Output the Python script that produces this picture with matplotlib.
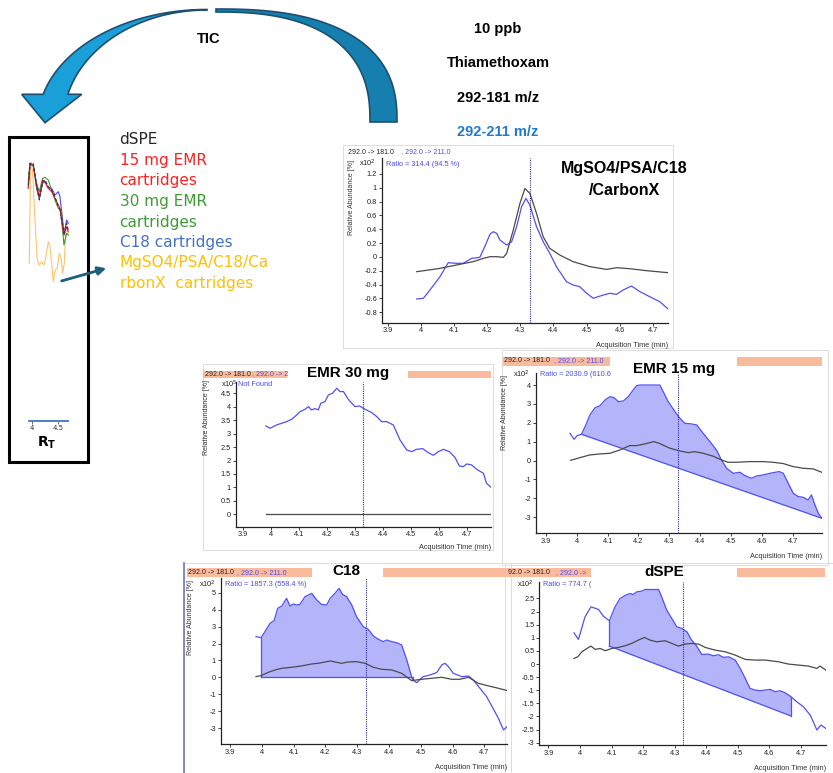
import numpy as np
import matplotlib.pyplot as plt
from matplotlib.patches import Polygon, Rectangle

plt.rcParams['axes.unicode_minus'] = False

W, H = 833, 773

# ---- chromatogram data (time in min, abundance x10^n) ----
rt_line = 4.328
x_ticks = [3.9, 4.0, 4.1, 4.2, 4.3, 4.4, 4.5, 4.6, 4.7]

# MgSO4/PSA/C18/CarbonX
mg_black_x = [3.988, 4.058, 4.108, 4.158, 4.189, 4.209, 4.229, 4.249, 4.259, 4.279, 4.299, 4.314, 4.329,
              4.349, 4.369, 4.389, 4.419, 4.459, 4.51, 4.56, 4.59, 4.63, 4.68, 4.745]
mg_black_y = [-0.213, -0.165, -0.116, -0.068, -0.02, 0.004, 0.004, -0.006, 0.052, 0.389, 0.774, 0.99, 0.918,
              0.629, 0.292, 0.124, 0.028, -0.068, -0.14, -0.18, -0.155, -0.17, -0.198, -0.227]
mg_blue_x = [3.988, 4.008, 4.028, 4.058, 4.083, 4.108, 4.128, 4.153, 4.178, 4.193, 4.209, 4.219, 4.229,
             4.239, 4.259, 4.274, 4.289, 4.304, 4.317, 4.329, 4.349, 4.369, 4.389, 4.409, 4.439, 4.459,
             4.479, 4.5, 4.52, 4.55, 4.57, 4.59, 4.61, 4.635, 4.66, 4.69, 4.72, 4.745]
mg_blue_y = [-0.607, -0.598, -0.477, -0.285, -0.083, -0.092, -0.092, -0.02, -0.006, 0.148, 0.331, 0.365,
             0.341, 0.244, 0.172, 0.22, 0.437, 0.726, 0.846, 0.75, 0.437, 0.22, 0.052, -0.141, -0.357,
             -0.405, -0.429, -0.525, -0.597, -0.55, -0.525, -0.54, -0.477, -0.42, -0.5, -0.574, -0.646, -0.75]

# EMR 30 mg
emr30_black_x = [3.983, 4.787]
emr30_black_y = [0.0, 0.0]
emr30_blue_x = [3.983, 3.998, 4.021, 4.057, 4.075, 4.093, 4.105, 4.123, 4.135, 4.146, 4.158, 4.17, 4.179,
                4.194, 4.206, 4.221, 4.236, 4.248, 4.26, 4.277, 4.301, 4.317, 4.337, 4.361, 4.379, 4.396,
                4.414, 4.438, 4.462, 4.486, 4.504, 4.521, 4.543, 4.563, 4.581, 4.599, 4.617, 4.638, 4.658,
                4.674, 4.688, 4.7, 4.718, 4.736, 4.76, 4.771, 4.787]
emr30_blue_y = [3.285, 3.198, 3.322, 3.446, 3.533, 3.694, 3.818, 3.905, 4.004, 3.88, 3.93, 3.88, 4.128,
                4.19, 4.438, 4.5, 4.686, 4.562, 4.562, 4.277, 4.004, 4.029, 3.905, 3.781, 3.632, 3.446,
                3.446, 3.322, 2.764, 2.392, 2.33, 2.417, 2.442, 2.293, 2.194, 2.33, 2.417, 2.33, 2.12,
                1.797, 1.773, 1.872, 1.835, 1.673, 1.525, 1.153, 1.004]

# EMR 15 mg
emr15_black_x = [3.981, 4.011, 4.043, 4.076, 4.108, 4.14, 4.172, 4.194, 4.215, 4.25, 4.269, 4.302, 4.334,
                 4.361, 4.382, 4.409, 4.442, 4.468, 4.49, 4.517, 4.56, 4.603, 4.635, 4.668, 4.7, 4.732,
                 4.765, 4.792]
emr15_black_y = [0.016, 0.157, 0.298, 0.351, 0.386, 0.562, 0.792, 0.792, 0.862, 1.003, 0.898, 0.651, 0.51,
                 0.421, 0.474, 0.386, 0.228, 0.034, -0.09, -0.09, -0.055, -0.055, -0.09, -0.16, -0.319,
                 -0.407, -0.443, -0.619]
emr15_blue_x = [3.979, 3.992, 4.002, 4.016, 4.03, 4.043, 4.06, 4.076, 4.092, 4.108, 4.121, 4.135, 4.151,
                4.167, 4.183, 4.194, 4.205, 4.269, 4.28, 4.296, 4.318, 4.334, 4.35, 4.372, 4.388, 4.409,
                4.431, 4.452, 4.468, 4.485, 4.506, 4.528, 4.544, 4.565, 4.582, 4.603, 4.63, 4.655, 4.668,
                4.684, 4.7, 4.716, 4.732, 4.748, 4.759, 4.77, 4.781, 4.792]
emr15_blue_y = [1.444, 1.127, 1.321, 1.391, 1.885, 2.414, 2.802, 2.908, 3.208, 3.384, 3.332, 3.12, 3.155,
                3.384, 3.737, 3.966, 4.0, 4.0, 3.648, 3.12, 2.591, 2.238, 1.973, 1.938, 1.885, 1.444,
                1.003, 0.562, 0.034, -0.407, -0.672, -0.619, -0.795, -0.936, -0.813, -0.76, -0.654, -0.584,
                -0.672, -1.201, -1.73, -1.906, -1.941, -2.083, -1.818, -2.347, -2.788, -3.052]
emr15_base_x = [4.016, 4.792]
emr15_base_y = [1.391, -3.052]

# C18
c18_black_x = [3.982, 3.998, 4.021, 4.042, 4.063, 4.094, 4.125, 4.157, 4.178, 4.215, 4.23, 4.251, 4.272,
               4.298, 4.325, 4.351, 4.377, 4.409, 4.44, 4.471, 4.503, 4.534, 4.566, 4.597, 4.623, 4.65,
               4.681, 4.713, 4.744, 4.772]
c18_black_y = [0.047, 0.106, 0.303, 0.44, 0.539, 0.598, 0.676, 0.794, 0.833, 0.971, 0.912, 0.833, 0.912,
               0.932, 0.833, 0.598, 0.48, 0.44, 0.244, -0.189, -0.11, -0.051, 0.008, -0.11, -0.11, 0.008,
               -0.346, -0.503, -0.641, -0.778]
c18_blue_x = [3.982, 3.998, 4.01, 4.026, 4.039, 4.05, 4.063, 4.078, 4.089, 4.099, 4.11, 4.12, 4.136, 4.157,
              4.173, 4.188, 4.204, 4.215, 4.23, 4.243, 4.254, 4.267, 4.283, 4.298, 4.319, 4.335, 4.351,
              4.367, 4.382, 4.393, 4.409, 4.424, 4.44, 4.456, 4.474, 4.487, 4.508, 4.529, 4.55, 4.566,
              4.576, 4.587, 4.602, 4.629, 4.65, 4.665, 4.686, 4.707, 4.723, 4.744, 4.76, 4.772]
c18_blue_y = [2.406, 2.347, 2.701, 3.192, 3.35, 4.077, 4.215, 4.667, 4.215, 4.333, 4.274, 4.313, 4.765,
              4.961, 4.568, 4.313, 4.274, 4.667, 4.961, 5.256, 4.903, 4.765, 4.274, 3.586, 2.996, 2.838,
              2.445, 2.249, 2.111, 2.209, 2.111, 2.052, 1.915, 1.03, -0.149, -0.307, 0.047, 0.145, 0.283,
              0.735, 0.833, 0.637, 0.244, 0.047, 0.086, -0.149, -0.641, -1.132, -1.683, -2.41, -3.098, -2.901]
c18_base_x = [3.998, 4.474]
c18_base_y = [0.0, 0.0]

# dSPE
dspe_black_x = [3.981, 3.993, 4.006, 4.022, 4.035, 4.048, 4.064, 4.08, 4.101, 4.122, 4.143, 4.164, 4.185,
                4.204, 4.222, 4.243, 4.27, 4.291, 4.312, 4.333, 4.354, 4.376, 4.397, 4.428, 4.46, 4.492,
                4.524, 4.555, 4.587, 4.629, 4.661, 4.693, 4.724, 4.751, 4.761, 4.779]
dspe_black_y = [0.213, 0.277, 0.467, 0.594, 0.683, 0.556, 0.594, 0.506, 0.594, 0.633, 0.696, 0.785, 0.912,
                1.013, 0.912, 0.848, 0.887, 0.785, 0.683, 0.76, 0.785, 0.76, 0.633, 0.531, 0.467, 0.34,
                0.175, 0.15, 0.15, 0.086, -0.003, -0.041, -0.079, -0.168, -0.079, -0.231]
dspe_blue_x = [3.981, 3.995, 4.016, 4.035, 4.059, 4.074, 4.093, 4.111, 4.127, 4.145, 4.159, 4.169, 4.18,
               4.196, 4.206, 4.249, 4.259, 4.275, 4.291, 4.307, 4.323, 4.339, 4.354, 4.37, 4.386, 4.407,
               4.423, 4.439, 4.455, 4.471, 4.492, 4.508, 4.524, 4.539, 4.555, 4.571, 4.587, 4.603, 4.619,
               4.634, 4.65, 4.669, 4.687, 4.708, 4.73, 4.751, 4.764, 4.779]
dspe_blue_y = [1.191, 0.937, 1.801, 2.182, 2.08, 1.826, 1.649, 2.182, 2.5, 2.627, 2.69, 2.652, 2.754,
               2.779, 2.843, 2.843, 2.563, 2.055, 1.738, 1.42, 1.357, 1.229, 0.912, 0.683, 0.366, 0.379,
               0.315, 0.353, 0.251, 0.277, 0.15, -0.168, -0.549, -0.93, -0.993, -1.019, -0.993, -0.968,
               -1.057, -1.019, -1.095, -1.247, -1.438, -1.628, -1.946, -2.518, -2.327, -2.454]
dspe_base_x = [4.093, 4.669]
dspe_base_y = [0.683, -1.984]

# small TIC overlay (relative units)
tic_x = [3.923, 3.955, 4.019, 4.083, 4.135, 4.199, 4.244, 4.308, 4.372, 4.436, 4.5, 4.532, 4.583, 4.609, 4.66, 4.692]
tic_dspe = [3.05, 3.7, 3.7, 3.0, 2.6, 3.15, 3.2, 3.0, 2.9, 2.7, 2.4, 2.3, 1.9, 1.6, 1.9, 1.7]
tic_emr15 = [2.95, 3.65, 3.65, 3.05, 2.7, 3.2, 3.15, 2.95, 2.85, 2.65, 2.45, 2.35, 1.8, 1.55, 1.8, 1.65]
tic_emr30 = [3.15, 3.7, 3.6, 3.1, 2.85, 3.25, 3.28, 3.2, 2.9, 2.6, 2.35, 2.35, 1.7, 1.25, 1.6, 1.55]
tic_c18 = [3.0, 3.7, 3.65, 2.95, 2.65, 3.1, 3.15, 2.95, 2.95, 2.75, 2.85, 2.7, 2.0, 1.55, 2.0, 1.9]
tic_mg_x = [3.942, 3.968, 4.006, 4.051, 4.096, 4.135, 4.179, 4.224, 4.263, 4.308, 4.34, 4.378, 4.404,
            4.442, 4.481, 4.519, 4.551, 4.583, 4.615, 4.641, 4.673, 4.692]
tic_mg = [0.7, 3.6, 3.5, 2.0, 0.8, 0.65, 0.75, 0.65, 0.9, 1.35, 1.2, 0.6, 0.15, 0.5, 0.55, 1.0, 0.9,
          0.4, 0.7, 1.65, 1.7, 1.55]

legend_lines = ['dSPE', '15 mg EMR', 'cartridges', '30 mg EMR', 'cartridges', 'C18 cartridges',
                'MgSO4/PSA/C18/Ca', 'rbonX  cartridges']
legend_colors = ['#262626', '#ff2020', '#ff2020', '#3f9b35', '#3f9b35', '#4472c4', '#ffc000', '#ffc000']

BLUE = '#5050f5'
GREY = '#4a4a4a'
ORANGE = '#f9bb9c'
TXT = 'Liberation Sans'


def px(x, y):
    return x / W, 1 - y / H


def ftext(x, y, s, **kw):
    fx, fy = px(x, y)
    fig.text(fx, fy, s, **kw)


def px_axes(l, t, r, b):
    return fig.add_axes([l / W, 1 - b / H, (r - l) / W, (b - t) / H])


def chrom(rect, xlim, ylim, yticks, bx, by, ux, uy, base_x=None, base_y=None):
    ax = px_axes(*rect)
    ax.set_facecolor('none')
    if base_x is not None:
        ux_a, uy_a = np.array(ux), np.array(uy)
        m = (ux_a >= base_x[0] - 1e-9) & (ux_a <= base_x[-1] + 1e-9)
        sx, sy = ux_a[m], uy_a[m]
        bl = np.interp(sx, base_x, base_y)
        ax.fill_between(sx, sy, bl, color='#b4b4fb', lw=0)
        ax.plot(base_x, base_y, color=BLUE, lw=0.9)
        ax.plot([base_x[0]] * 2, [base_y[0], sy[0]], color=BLUE, lw=0.9)
        ax.plot([base_x[-1]] * 2, [base_y[-1], sy[-1]], color=BLUE, lw=0.9)
    ax.plot(ux, uy, color=BLUE, lw=0.9)
    ax.plot(bx, by, color=GREY, lw=0.9)
    ax.axvline(rt_line, color='#2c2c9c', lw=0.8, ls=(0, (1, 1)))
    ax.set_xlim(*xlim)
    ax.set_ylim(*ylim)
    ax.set_xticks(x_ticks)
    ax.set_xticklabels(['%g' % v for v in x_ticks])
    ax.set_yticks(yticks)
    ax.set_yticklabels(['%g' % (round(v, 2) + 0.0) for v in yticks])
    for s in ['top', 'right']:
        ax.spines[s].set_visible(False)
    for s in ['left', 'bottom']:
        ax.spines[s].set_color('#222222')
        ax.spines[s].set_linewidth(0.9)
    ax.tick_params(length=2.2, width=0.6, pad=1.2, labelsize=5.3, colors='#222222')
    for lab in ax.get_xticklabels() + ax.get_yticklabels():
        lab.set_family(TXT)
    ax.text(1.0, -0.12, 'Acquisition Time (min)', transform=ax.transAxes, ha='right', va='top',
            fontsize=5.3, family=TXT, color='#333333')
    return ax


fig = plt.figure(figsize=(W / 100, H / 100), dpi=100)

# overlay for shapes in pixel space
ov = fig.add_axes([0, 0, 1, 1])
ov.set_xlim(0, W)
ov.set_ylim(H, 0)
ov.axis('off')


def arc(cx, cy, rx, ry, t0, t1, p=1.0, n=80):
    t = np.linspace(t0, t1, n)
    c, s = np.cos(t), np.sin(t)
    return np.column_stack([cx + rx * np.sign(c) * np.abs(c) ** p, cy - ry * np.abs(s) ** p])


# big curved arrow
dark = np.vstack([arc(216, 122, 181, 113, np.pi / 2, 0, 0.8), arc(216, 122, 154, 110, 0, np.pi / 2, 0.8)])
ov.add_patch(Polygon(dark, closed=True, fc='#1580b0', ec='#1d4f6e', lw=1.2))
t_o = np.pi - np.arcsin(27.7 / 112.5)
t_i = np.pi - np.arcsin(27.7 / 112.0)
light = np.vstack([arc(207, 122, 169, 112.5, np.pi / 2, t_o),
                   [[21.7, 94.3], [45, 122.7], [81.7, 94.3]],
                   arc(207, 122, 143.6, 112, t_i, np.pi / 2)])
ov.add_patch(Polygon(light, closed=True, fc='#1b9fd8', ec='#1d4f6e', lw=1.2))

# panel frames
for (l, t, r, b) in [(343, 145, 673, 348), (203, 364, 493, 550), (502, 350, 828, 565),
                     (184, 563, 511, 773), (505, 563, 833, 773)]:
    ov.add_patch(Rectangle((l, t), r - l, b - t, fill=False, ec='#dcdcdc', lw=0.7))
ov.plot([184, 184], [563, 773], color='#6a78c0', lw=1.2)

# orange header boxes
for (l, t, r, b) in [(203, 370.7, 287, 377.5), (408, 370.7, 491, 377.5),
                     (503, 356.7, 610, 365.7), (737, 356.7, 821.7, 365.7),
                     (186.7, 568.3, 311.7, 577.3), (383, 568.3, 508, 577.3),
                     (505, 568, 591, 576.7), (737, 568, 825, 576.7)]:
    ov.add_patch(Rectangle((l, t), r - l, b - t, fc=ORANGE, ec='none'))

# inset box and small arrow
ov.add_patch(Rectangle((9, 137), 79, 325, fill=False, ec='black', lw=2.2))
ov.annotate('', xy=(109, 267.5), xytext=(59, 281.7),
            arrowprops=dict(arrowstyle='-|>', color='#1d5f7a', lw=2, mutation_scale=12))

# inset TIC overlay
ins = px_axes(26, 160, 70, 285)
ins.plot(tic_mg_x, tic_mg, color='#ffc36a', lw=0.8)
ins.plot(tic_x, tic_emr30, color='#3f9b35', lw=0.8)
ins.plot(tic_x, tic_c18, color='#4a4aee', lw=0.8)
ins.plot(tic_x, tic_emr15, color='#e02020', lw=0.8)
ins.plot(tic_x, tic_dspe, color='#333333', lw=0.8, ls=(0, (3, 1.5)))
ins.set_xlim(3.879, 4.725)
ins.set_ylim(0.05, 3.8)
ins.axis('off')

ia = px_axes(26, 420, 70, 421)
ia.set_xlim(3.879, 4.725)
ia.set_xticks([4.0, 4.5])
ia.set_xticklabels(['4', '4.5'])
ia.set_yticks([])
for s in ['top', 'right', 'left']:
    ia.spines[s].set_visible(False)
ia.spines['bottom'].set_color('#4472c4')
ia.spines['bottom'].set_linewidth(1.3)
ia.spines['bottom'].set_bounds(3.937, 4.687)
ia.set_facecolor('none')
ia.tick_params(length=2, width=0.5, pad=1, labelsize=5, colors='#333333')
ftext(46.7, 443, r'$\mathbf{R_T}$', ha='center', va='center', fontsize=10)

# legend text
for i, (s, c) in enumerate(zip(legend_lines, legend_colors)):
    ftext(119.5, 140 + i * 20.5, s, color=c, fontsize=11, ha='left', va='center', family='DejaVu Sans')

# top labels
ftext(209, 39, 'TIC', fontsize=10.5, weight='bold', ha='center', va='center', family=TXT)
for s, y, c in [('10 ppb', 28.5, 'black'), ('Thiamethoxam', 63, 'black'),
                ('292-181 m/z', 98.5, 'black'), ('292-211 m/z', 132, '#1f7ad0')]:
    ftext(498, y, s, fontsize=10.5, weight='bold', ha='center', va='center', color=c, family=TXT)

# panels
chrom((381.7, 158, 668.3, 322.7), (3.8825, 4.746), (-0.95, 1.43), np.round(np.arange(-0.8, 1.21, 0.2), 1),
      mg_black_x, mg_black_y, mg_blue_x, mg_blue_y)
chrom((235.7, 381.7, 491, 526.7), (3.875, 4.787), (-0.46, 4.93), np.arange(0, 4.51, 0.5),
      emr30_black_x, emr30_black_y, emr30_blue_x, emr30_blue_y)
chrom((535.7, 373.3, 821.7, 533.3), (3.868, 4.792), (-3.85, 4.62), np.arange(-3, 4.1, 1),
      emr15_black_x, emr15_black_y, emr15_blue_x, emr15_blue_y, emr15_base_x, emr15_base_y)
chrom((220.7, 578.3, 507.3, 744), (3.871, 4.772), (-3.93, 5.85), np.arange(-3, 5.1, 1),
      c18_black_x, c18_black_y, c18_blue_x, c18_blue_y, c18_base_x, c18_base_y)
chrom((539.3, 581.7, 825.7, 745), (3.871, 4.779), (-3.09, 3.14), np.arange(-3, 2.51, 0.5),
      dspe_black_x, dspe_black_y, dspe_blue_x, dspe_blue_y, dspe_base_x, dspe_base_y)

# panel headers
HB = '#4b4bff'
headers = [
    (348, 401, 152, '292.0 -> 181.0', ', 292.0 -> 211.0'),
    (205, 252, 374, '292.0 -> 181.0', ', 292.0 -> 2'),
    (504, 554, 361, '292.0 -> 181.0', ', 292.0 -> 211.0'),
    (188.3, 237, 572.7, '292.0 -> 181.0', ', 292.0 -> 211.0'),
    (508, 555.5, 572.3, '92.0 -> 181.0', ', 292.0 ->'),
]
for x0, x1, y, s0, s1 in headers:
    ftext(x0, y, s0, fontsize=5.0, family=TXT, ha='left', va='center', color='#222222')
    ftext(x1, y, s1, fontsize=5.0, family=TXT, ha='left', va='center', color=HB)

for x, y, s in [(359, 163.5, r'x10$^{2}$'), (220.7, 384, r'x10$^{5}$'), (513.3, 374.5, r'x10$^{2}$'),
                (199, 584, r'x10$^{2}$'), (516.7, 584, r'x10$^{2}$')]:
    ftext(x, y, s, fontsize=5.3, family=TXT, ha='left', va='center', color='#222222')

for x, y, s in [(386, 164, 'Ratio = 314.4 (94.5 %)'), (238.3, 384.5, 'Not Found'),
                (540, 374.5, 'Ratio = 2030.9 (610.6'), (225, 585, 'Ratio = 1857.3 (558.4 %)'),
                (543.3, 584.5, 'Ratio = 774.7 (')]:
    ftext(x, y, s, fontsize=5.3, family=TXT, ha='left', va='center', color=HB)

for x, y in [(351.7, 160), (206, 380), (505, 375), (190, 580)]:
    ftext(x, y, 'Relative Abundance [%]', fontsize=5, family=TXT, rotation=90, ha='center', va='top',
          color='#333333')

# panel titles
ftext(624.5, 168.5, 'MgSO4/PSA/C18', fontsize=11.5, weight='bold', ha='center', va='center', family=TXT)
ftext(624.5, 190.5, '/CarbonX', fontsize=11.5, weight='bold', ha='center', va='center', family=TXT)
ftext(348, 372.5, 'EMR 30 mg', fontsize=11, weight='bold', ha='center', va='center', family=TXT)
ftext(674, 369, 'EMR 15 mg', fontsize=11, weight='bold', ha='center', va='center', family=TXT)
ftext(346.7, 571, 'C18', fontsize=11, weight='bold', ha='center', va='center', family=TXT)
ftext(663.8, 572.5, 'dSPE', fontsize=11, weight='bold', ha='center', va='center', family=TXT)

fig.savefig('out.png', dpi=100)
